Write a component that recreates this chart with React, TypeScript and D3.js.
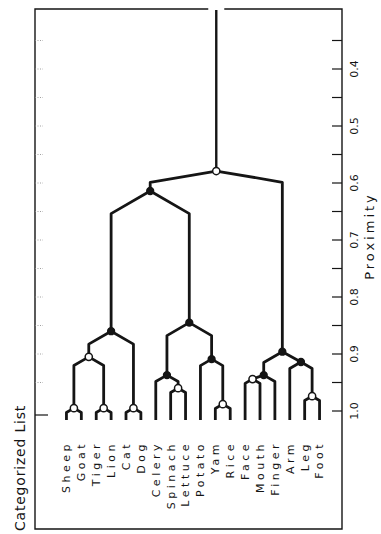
import React, { useEffect, useRef } from "react";
import * as d3 from "d3";

// leaves, left to right
const leaves = ["Sheep", "Goat", "Tiger", "Lion", "Cat", "Dog", "Celery", "Spinach", "Lettuce",
  "Potato", "Yam", "Rice", "Face", "Mouth", "Finger", "Arm", "Leg", "Foot"];

// clusters, children listed before parents
const clusterNames = ["SG", "TL", "CD", "SGTL", "Animals", "SL", "CSL", "YR", "PYR", "Vegetables",
  "AnimVeg", "FM", "FMF", "LF", "ALF", "Body", "Root"];
const clusterChildren = [
  ["Sheep", "Goat"], ["Tiger", "Lion"], ["Cat", "Dog"], ["SG", "TL"], ["SGTL", "CD"],
  ["Spinach", "Lettuce"], ["Celery", "SL"], ["Yam", "Rice"], ["Potato", "YR"], ["CSL", "PYR"],
  ["Animals", "Vegetables"], ["Face", "Mouth"], ["FM", "Finger"], ["Leg", "Foot"], ["Arm", "LF"],
  ["FMF", "ALF"], ["AnimVeg", "Body"]
];
const clusterProximity = [0.995, 0.995, 0.995, 0.905, 0.86, 0.96, 0.937, 0.988, 0.909, 0.845,
  0.614, 0.944, 0.937, 0.974, 0.914, 0.896, 0.579];
const clusterOpen = [true, true, true, true, false, true, false, true, false, false,
  false, true, false, true, false, false, true];

const majorTicks = [0.4, 0.5, 0.6, 0.7, 0.8, 0.9, 1.0];
const tickLabels = ["0.4", "0.5", "0.6", "0.7", "0.8", "0.9", "1.0"];
const minorTicks = [0.35, 0.45, 0.55, 0.65, 0.75, 0.85, 0.95];

export default function App() {
  const ref = useRef<SVGSVGElement>(null);

  useEffect(() => {
    const svg = d3.select(ref.current);
    svg.selectAll("*").remove();
    const ink = "#151515";
    const font = "'DejaVu Sans', sans-serif";
    const frame = { left: 35, right: 342, top: 9, bottom: 529 };

    const y = d3.scaleLinear().domain([0.4, 1.0]).range([69, 411]);
    const x = d3.scaleLinear().domain([0, 1]).range([59, 327]);
    const leafBottom = y(1.0) + 9;

    // build the tree
    const lookup = new Map<string, any>();
    leaves.forEach(n => lookup.set(n, { name: n }));
    clusterNames.forEach((n, i) => {
      lookup.set(n, {
        name: n, p: clusterProximity[i], open: clusterOpen[i],
        children: clusterChildren[i].map(c => lookup.get(c))
      });
    });
    const root: any = d3.hierarchy(lookup.get("Root"));
    d3.cluster().size([1, 1]).separation(() => 1)(root);
    root.each((d: any) => {
      d.px = x(d.x);
      d.py = d.children ? y(d.data.p) : leafBottom;
    });

    // frame
    const g = svg.append("g");
    const rootX = root.px;
    g.append("path")
      .attr("d", `M${rootX - 8},${frame.top} H${frame.left} V${frame.bottom} H${frame.right} V${frame.top} H${rootX + 8}`)
      .attr("fill", "none").attr("stroke", ink).attr("stroke-width", 1.4);

    // right axis ticks
    g.selectAll(".tick").data([...majorTicks, ...minorTicks]).enter().append("line")
      .attr("x1", frame.right - 10).attr("x2", frame.right)
      .attr("y1", d => y(d)).attr("y2", d => y(d))
      .attr("stroke", ink).attr("stroke-width", 1.2);

    // faint left ticks
    g.selectAll(".ltick").data([...majorTicks.slice(0, -1), ...minorTicks]).enter().append("line")
      .attr("x1", frame.left).attr("x2", frame.left + 8)
      .attr("y1", d => y(d)).attr("y2", d => y(d))
      .attr("stroke", "#888").attr("stroke-width", 0.8).attr("stroke-dasharray", "1,1.5");
    g.append("line")
      .attr("x1", frame.left).attr("x2", frame.left + 13)
      .attr("y1", y(1.0) + 4).attr("y2", y(1.0) + 4)
      .attr("stroke", ink).attr("stroke-width", 1.2);

    // tick labels
    g.selectAll(".tlab").data(majorTicks).enter().append("text")
      .attr("transform", d => `translate(${354},${y(d)}) rotate(-90)`)
      .attr("text-anchor", "middle").attr("dy", "0.35em")
      .attr("font-family", font).attr("font-size", 11).attr("fill", ink)
      .text((d, i) => tickLabels[i]);

    g.append("text")
      .attr("transform", `translate(${369},${236}) rotate(-90)`)
      .attr("text-anchor", "middle").attr("dy", "0.35em")
      .attr("font-family", font).attr("font-size", 13).attr("letter-spacing", 3)
      .attr("fill", ink).text("Proximity");

    g.append("text")
      .attr("transform", `translate(${20},${468}) rotate(-90)`)
      .attr("text-anchor", "middle").attr("dy", "0.35em")
      .attr("font-family", font).attr("font-size", 14).attr("letter-spacing", 0.8)
      .attr("fill", ink).text("Categorized List");

    // root stem
    g.append("line")
      .attr("x1", rootX).attr("x2", rootX)
      .attr("y1", frame.top + 1).attr("y2", root.py)
      .attr("stroke", ink).attr("stroke-width", 2.4);

    // branches
    g.selectAll(".link").data(root.links()).enter().append("path")
      .attr("d", (l: any) => {
        const s = l.source, t = l.target;
        const slope = s.depth === 0 ? 0.17 : 0.58;
        const knee = Math.min(s.py + slope * Math.abs(t.px - s.px), t.py);
        return `M${s.px},${s.py} L${t.px},${knee} L${t.px},${t.py}`;
      })
      .attr("fill", "none").attr("stroke", ink).attr("stroke-width", 2.8)
      .attr("stroke-linejoin", "round");

    // nodes
    g.selectAll(".node").data(root.descendants().filter((d: any) => d.children)).enter().append("circle")
      .attr("cx", (d: any) => d.px).attr("cy", (d: any) => d.py)
      .attr("r", (d: any) => d.data.open ? 3.6 : 3.4)
      .attr("fill", (d: any) => d.data.open ? "#fff" : ink)
      .attr("stroke", ink).attr("stroke-width", 1.5);

    // leaf labels
    g.selectAll(".leaf").data(root.leaves()).enter().append("text")
      .attr("transform", (d: any) => `translate(${d.px},${leafBottom + 21}) rotate(-90)`)
      .attr("text-anchor", "end").attr("dy", "0.35em")
      .attr("font-family", font).attr("font-size", 11).attr("letter-spacing", 3.5)
      .attr("fill", ink)
      .text((d: any) => d.data.name);
  }, []);

  return (
    <svg ref={ref} width={381} height={534}
      style={{ position: "absolute", left: 0, top: 0, background: "#fff" }} />
  );
}
